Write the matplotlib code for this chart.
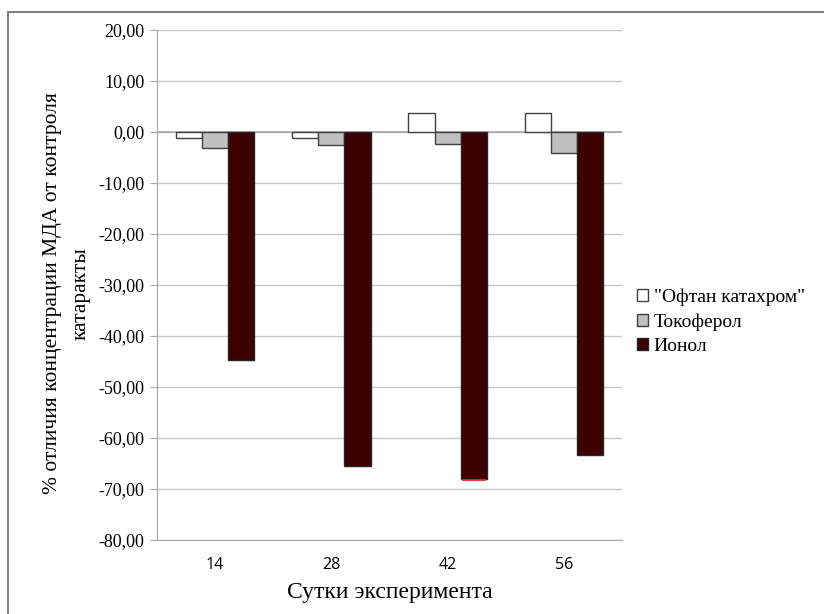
import numpy as np
import matplotlib.pyplot as plt
from matplotlib.patches import Rectangle

# Сутки эксперимента и % отличия концентрации МДА от контроля катаракты
days = ['14', '28', '42', '56']
oftan = [-1.2, -1.2, 3.7, 3.8]
tocopherol = [-3.1, -2.6, -2.4, -4.2]
ionol = [-44.8, -65.4, -68.1, -63.4]

series_names = ['"Офтан катахром"', 'Токоферол', 'Ионол']
series_values = [oftan, tocopherol, ionol]
fills = ['#ffffff', '#c0c0c0', '#3d0000']
edges = ['#404040', '#404040', '#262626']

serif = ['Liberation Serif', 'DejaVu Serif']

fig = plt.figure(figsize=(8.24, 6.14), dpi=100)
ax = fig.add_axes([157/824, 1 - 540/614, 465/824, 510/614])

# outer chart frame
fig.patches.append(Rectangle((8/824, -0.1), 1.2, 1 - 12/614 + 0.1,
                             transform=fig.transFigure, fill=False,
                             edgecolor='#808080', linewidth=1.5, zorder=0))

x = np.arange(len(days))
w = 0.225
for k, (name, vals) in enumerate(zip(series_names, series_values)):
    ax.bar(x + (k - 1) * w, vals, width=w, color=fills[k], edgecolor=edges[k],
           linewidth=1.0, label=name, zorder=3)

# red bottom edge on the 42-day Ionol bar
ax.hlines(ionol[2] - 0.15, x[2] + w - w / 2 + 0.01, x[2] + w + w / 2 - 0.01,
          color='#ff2020', linewidth=1.2, zorder=4)

ax.set_xlim(-0.5, len(days) - 0.5)
ax.set_ylim(-80, 20)
ax.set_yticks(np.arange(-80, 21, 10))
ax.set_yticklabels([f'{v:.2f}'.replace('.', ',') for v in np.arange(-80, 21, 10)],
                   family=serif, fontsize=13)
ax.set_xticks(x)
ax.set_xticklabels(days, family=['Open Sans', 'DejaVu Sans'], fontsize=11.5)

ax.grid(axis='y', color='#c8c8c8', linewidth=1.0, zorder=0)
ax.axhline(0, color='#a6a6a6', linewidth=1.2, zorder=2)
for s in ['top', 'right']:
    ax.spines[s].set_visible(False)
ax.spines['left'].set_color('#a6a6a6')
ax.spines['bottom'].set_color('#a6a6a6')
ax.tick_params(axis='y', length=5, color='#a6a6a6', pad=4)
ax.tick_params(axis='x', length=0, pad=12)

ax.set_xlabel('Сутки эксперимента', family=serif, fontsize=17, labelpad=7)
ax.set_ylabel('% отличия концентрации МДА от контроля\nкатаракты',
              family=serif, fontsize=15.5, linespacing=1.7)
ax.yaxis.set_label_coords(-0.142, 0.484)

ax.legend(loc='center left', bbox_to_anchor=(0.995, 0.428), frameon=False,
          prop={'family': serif, 'size': 14}, handlelength=0.55,
          handleheight=0.55, handletextpad=0.3, labelspacing=0.38)

fig.savefig('out.png', dpi=100)
